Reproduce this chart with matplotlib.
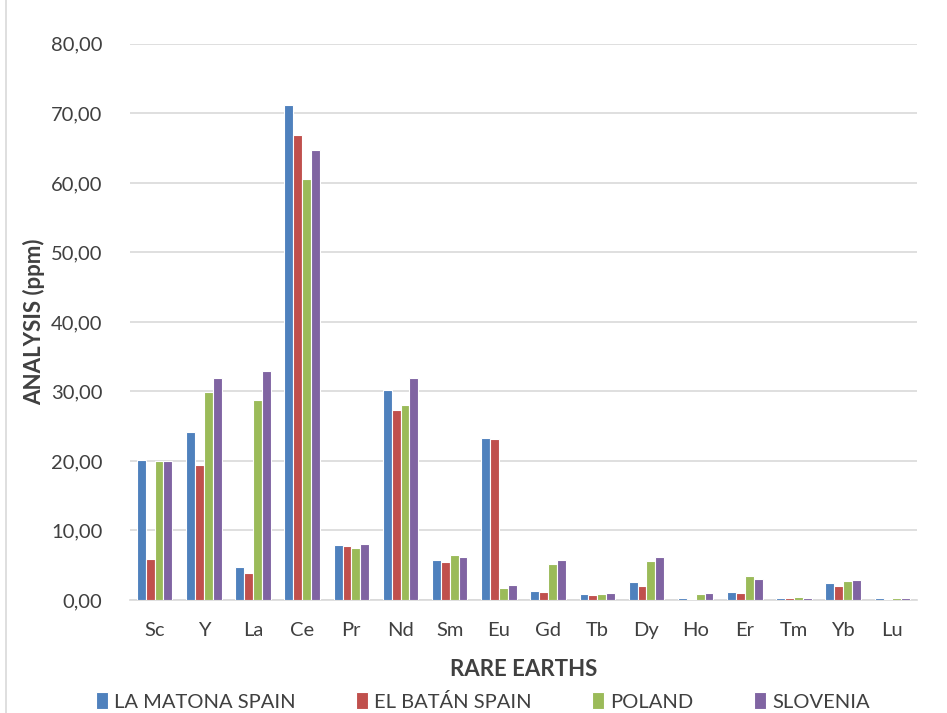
import matplotlib.pyplot as plt
import numpy as np

plt.rcParams['font.family'] = ['Lato', 'DejaVu Sans']

elements = ['Sc', 'Y', 'La', 'Ce', 'Pr', 'Nd', 'Sm', 'Eu', 'Gd', 'Tb',
            'Dy', 'Ho', 'Er', 'Tm', 'Yb', 'Lu']
la_matona = [20.2, 24.2, 4.7, 71.2, 7.9, 30.2, 5.8, 23.3, 1.25, 0.8,
             2.6, 0.25, 1.15, 0.35, 2.5, 0.25]
el_batan = [5.9, 19.4, 3.9, 66.9, 7.7, 27.3, 5.4, 23.2, 1.2, 0.7,
            2.0, 0.2, 1.0, 0.25, 2.05, 0.15]
poland = [20.0, 29.9, 28.8, 60.5, 7.5, 28.0, 6.4, 1.7, 5.2, 0.85,
          5.6, 0.9, 3.4, 0.4, 2.8, 0.25]
slovenia = [20.0, 32.0, 32.9, 64.8, 8.0, 31.9, 6.2, 2.1, 5.7, 1.0,
            6.2, 1.0, 3.0, 0.35, 2.9, 0.25]

series = [('LA MATONA SPAIN', la_matona, '#4F81BD'),
          ('EL BATÁN SPAIN', el_batan, '#C0504D'),
          ('POLAND', poland, '#9BBB59'),
          ('SLOVENIA', slovenia, '#8064A2')]

fig = plt.figure(figsize=(9.47, 7.13), dpi=100)
ax = fig.add_axes([0.1373, 0.1585, 0.831, 0.78])

x = np.arange(len(elements))
w = 0.18
for i, (name, vals, col) in enumerate(series):
    ax.bar(x + (i - 1.5) * w, vals, width=w, color=col, edgecolor='white',
           linewidth=0.8, label=name, zorder=3)

ax.set_xlim(-0.5, len(elements) - 0.5)
ax.set_ylim(0, 80)
ax.set_yticks(np.arange(0, 81, 10))
ax.set_yticklabels([f'{v:.2f}'.replace('.', ',') for v in np.arange(0, 81, 10)])
ax.set_xticks(x)
ax.set_xticklabels(elements)
ax.tick_params(axis='both', length=0, labelsize=14.5, colors='#404040')
ax.tick_params(axis='x', pad=16)
ax.tick_params(axis='y', pad=20)
ax.grid(axis='y', color='#D9D9D9', linewidth=1.2, zorder=0)
for s in ['top', 'right', 'left']:
    ax.spines[s].set_visible(False)
ax.spines['bottom'].set_color('#D9D9D9')
ax.spines['bottom'].set_linewidth(1.2)

ax.set_ylabel('ANALYSIS (ppm)', fontsize=16, fontweight='bold', color='#404040', labelpad=4)
ax.set_xlabel('RARE EARTHS', fontsize=16, fontweight='bold', color='#404040', labelpad=14)

fig.legend(loc='center', bbox_to_anchor=(0.51, 0.016), ncol=4, frameon=False,
           fontsize=14.5, handlelength=0.6, handleheight=0.9, handletextpad=0.3,
           columnspacing=3.0, labelcolor='#404040')

fig.add_artist(plt.Line2D([0.006, 0.006], [0, 1], color='#D9D9D9', linewidth=1.2))

fig.savefig('out.png', dpi=100)
